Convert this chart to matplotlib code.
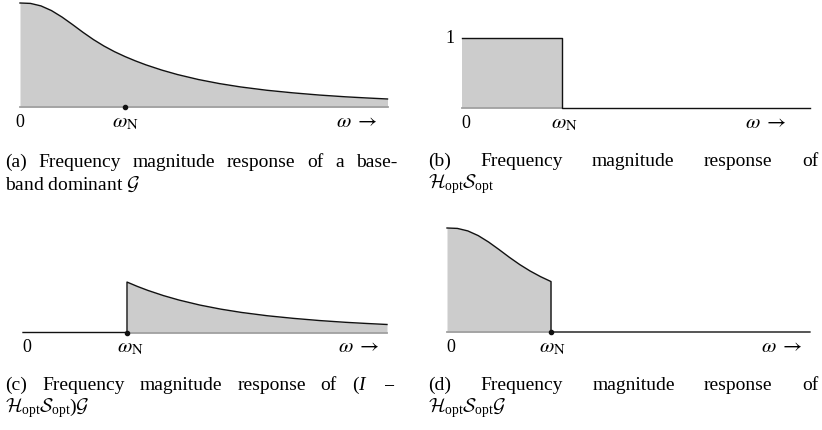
import numpy as np
import matplotlib
matplotlib.use('Agg')
import matplotlib.pyplot as plt

plt.rcParams['font.family'] = ['Liberation Serif', 'DejaVu Serif']
plt.rcParams['mathtext.fontset'] = 'custom'
plt.rcParams['mathtext.rm'] = 'Liberation Serif'
plt.rcParams['mathtext.it'] = 'Liberation Serif:italic'
plt.rcParams['mathtext.bf'] = 'Liberation Serif:bold'
plt.rcParams['mathtext.cal'] = 'cmsy10'

W, H = 822, 430

# |G(w)|, w in units of w_N, magnitude normalised to G(0)
g_w = [0.0, 0.1, 0.2, 0.3, 0.4, 0.5, 0.6, 0.7, 0.8, 0.9, 1.0, 1.1, 1.2, 1.35,
       1.5, 1.7, 1.9, 2.1, 2.35, 2.6, 2.85, 3.1, 3.3, 3.5]
g_mag = [1.0, 0.996, 0.972, 0.927, 0.865, 0.793, 0.718, 0.648, 0.586, 0.532,
         0.485, 0.443, 0.405, 0.355, 0.312, 0.264, 0.225, 0.193, 0.161, 0.136,
         0.115, 0.098, 0.087, 0.077]
w_n = 1.0
hs_level = 1.0   # H_opt S_opt is 1 below w_N

# tick label positions per panel: '0', 'w_N', 'w ->' (right edge)
lab_zero = [0.0, 0.04, 0.04, 0.04]
lab_wn = [1.0, 1.02, 1.03, 1.01]
lab_w = [3.40, 3.24, 3.43, 3.42]

line1 = [
    ['(a)', 'Frequency', 'magnitude', 'response', 'of', 'a', 'base-'],
    ['(b)', 'Frequency', 'magnitude', 'response', 'of'],
    ['(c)', 'Frequency', 'magnitude', 'response', 'of', r'$(I$', r'$-$'],
    ['(d)', 'Frequency', 'magnitude', 'response', 'of'],
]
line2 = [
    r'band dominant $\mathcal{G}$',
    r'$\mathcal{H}_{\mathrm{opt}}\mathcal{S}_{\mathrm{opt}}$',
    r'$\mathcal{H}_{\mathrm{opt}}\mathcal{S}_{\mathrm{opt}})\mathcal{G}$',
    r'$\mathcal{H}_{\mathrm{opt}}\mathcal{S}_{\mathrm{opt}}\mathcal{G}$',
]

# panel boxes in pixels: x of w=0, px per unit, baseline y, px per unit height, w max
boxes = [(20, 105, 107, 104, 3.495),
         (462, 100, 108, 70, 3.48),
         (23, 104, 332.5, 104, 3.5),
         (447, 104, 332, 104, 3.49)]
cap_left = [5, 428, 5, 428]
cap_right = [397, 818, 395, 818]
cap_base = [167, 166, 390, 390]

fill_c = '#cccccc'
base_c = '#a0a0a0'
ink = '#111111'
lw = 1.0

fig = plt.figure(figsize=(W / 100, H / 100), dpi=100)

g_w = np.array(g_w)
g_mag = np.array(g_mag)
axes = []
for (x0, sx, yb, sy, xm) in boxes:
    ax = fig.add_axes([x0 / W, 1 - yb / H, xm * sx / W, sy / H])
    ax.set_xlim(0, xm)
    ax.set_ylim(0, 1)
    ax.axis('off')
    axes.append(ax)

# (a) G
ax = axes[0]
ax.fill_between(g_w, 0, g_mag, color=fill_c, lw=0)
ax.plot([0, g_w[-1]], [0, 0], color=base_c, lw=1.3, clip_on=False)
ax.plot(g_w, g_mag, color=ink, lw=lw, clip_on=False, solid_joinstyle='round')
ax.plot([w_n], [0], 'o', color=ink, ms=3, clip_on=False)

# (b) H_opt S_opt
ax = axes[1]
ax.fill_between([0, w_n], 0, hs_level, color=fill_c, lw=0)
ax.plot([0, w_n], [0, 0], color=base_c, lw=1.3, clip_on=False)
ax.plot([0, w_n, w_n, boxes[1][4]], [hs_level, hs_level, 0, 0], color=ink, lw=lw,
        clip_on=False)
ax.text(-0.07, hs_level, '1', ha='right', va='center', fontsize=13)

# (c) (I - H_opt S_opt) G
ax = axes[2]
hi = g_w >= w_n
ax.fill_between(g_w[hi], 0, g_mag[hi], color=fill_c, lw=0)
ax.plot([w_n, g_w[-1]], [0, 0], color=base_c, lw=1.3, clip_on=False)
ax.plot(np.r_[0, w_n, g_w[hi]], np.r_[0, 0, g_mag[hi]], color=ink, lw=lw,
        clip_on=False, solid_joinstyle='round')
ax.plot([w_n], [0], 'o', color=ink, ms=3, clip_on=False)

# (d) H_opt S_opt G
ax = axes[3]
lo = g_w <= w_n
ax.fill_between(g_w[lo], 0, g_mag[lo], color=fill_c, lw=0)
ax.plot([0, w_n], [0, 0], color=base_c, lw=1.3, clip_on=False)
ax.plot(np.r_[g_w[lo], w_n, boxes[3][4]], np.r_[g_mag[lo], 0, 0], color=ink, lw=lw,
        clip_on=False, solid_joinstyle='round')
ax.plot([w_n], [0], 'o', color=ink, ms=3, clip_on=False)

off = -20 * 72 / 100
for i, ax in enumerate(axes):
    kw = dict(textcoords='offset points', va='baseline')
    ax.annotate('0', (lab_zero[i], 0), xytext=(0, off), ha='center', fontsize=13, **kw)
    ax.annotate(r'$\omega_{\mathrm{N}}$', (lab_wn[i], 0), xytext=(0, off), ha='center',
                fontsize=15, math_fontfamily='stix', **kw)
    ax.annotate(r'$\omega\;\rightarrow$', (lab_w[i], 0), xytext=(0, off), ha='right',
                fontsize=15, math_fontfamily='stix', **kw)

# captions: first line justified, second line flush left
cap_fs = 14
words = []
for i in range(4):
    ts = [fig.text(0, 1 - cap_base[i] / H, w, fontsize=cap_fs, va='baseline')
          for w in line1[i]]
    words.append(ts)
    fig.text(cap_left[i] / W, 1 - (cap_base[i] + 22.5) / H, line2[i],
             fontsize=cap_fs, va='baseline')

fig.canvas.draw()
r = fig.canvas.get_renderer()
for i, ts in enumerate(words):
    widths = [t.get_window_extent(r).width for t in ts]
    gap = (cap_right[i] - cap_left[i] - sum(widths)) / (len(ts) - 1)
    x = cap_left[i]
    for t, wd in zip(ts, widths):
        t.set_x(x / W)
        x += wd + gap

fig.savefig('out.png', dpi=100)
